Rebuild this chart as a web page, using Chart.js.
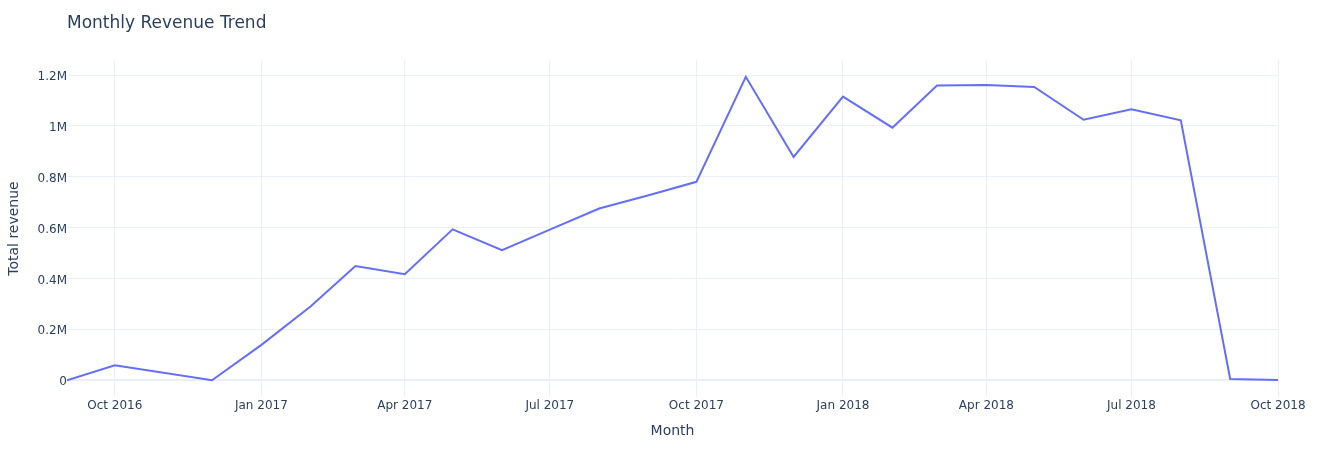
<!DOCTYPE html>
<html>
<head>
<meta charset="utf-8">
<script src="https://cdn.jsdelivr.net/npm/chart.js@4/dist/chart.umd.min.js"></script>
<style>
  html, body { margin: 0; padding: 0; background: #fff; }
  #wrap { width: 1318px; height: 450px; }
</style>
</head>
<body>
<div id="wrap"><canvas id="revenueChart" width="1318" height="450"></canvas></div>
<script>
// monthly revenue (Nov 2016 has no row, so the line jumps Oct -> Dec)
const months = [
  '2016-09', '2016-10', '2016-12',
  '2017-01', '2017-02', '2017-03', '2017-04', '2017-05', '2017-06',
  '2017-07', '2017-08', '2017-09', '2017-10', '2017-11', '2017-12',
  '2018-01', '2018-02', '2018-03', '2018-04', '2018-05', '2018-06',
  '2018-07', '2018-08', '2018-09', '2018-10'
];
const revenue = [
  0, 59000, 20,
  139000, 291000, 449000, 417000, 593000, 511000,
  592000, 675000, 727000, 780000, 1193000, 878000,
  1115000, 993000, 1159000, 1161000, 1153000, 1024000,
  1065000, 1022000, 5000, 600
];
const xTickMonths = ['2016-10', '2017-01', '2017-04', '2017-07', '2017-10', '2018-01', '2018-04', '2018-07', '2018-10'];
const yTickValues = [0, 200000, 400000, 600000, 800000, 1000000, 1200000];

const monthNames = ['Jan','Feb','Mar','Apr','May','Jun','Jul','Aug','Sep','Oct','Nov','Dec'];
const toDay = m => { const [y, mo] = m.split('-').map(Number); return Date.UTC(y, mo - 1, 1) / 86400000; };
const fromDay = d => { const dt = new Date(d * 86400000); return monthNames[dt.getUTCMonth()] + ' ' + dt.getUTCFullYear(); };

const fontFamily = "'DejaVu Sans', Verdana, sans-serif";
const textColor = '#2a3f5f';
const gridColor = '#ebf0f8';

const titlePlugin = {
  id: 'plotTitle',
  afterDraw(chart) {
    const c = chart.ctx;
    c.save();
    c.font = '17px ' + fontFamily;
    c.fillStyle = textColor;
    c.textBaseline = 'middle';
    c.fillText('Monthly Revenue Trend', chart.chartArea.left, 24);
    c.restore();
  }
};

const ctx = document.getElementById('revenueChart').getContext('2d');
new Chart(ctx, {
  type: 'line',
  data: {
    datasets: [{
      label: 'Total revenue',
      data: months.map((m, i) => ({ x: toDay(m), y: revenue[i] })),
      borderColor: '#636efa',
      backgroundColor: '#636efa',
      borderWidth: 2,
      pointRadius: 0,
      tension: 0,
      fill: false
    }]
  },
  options: {
    responsive: false,
    animation: false,
    layout: { padding: { top: 60, right: 40, bottom: 0, left: 0 } },
    plugins: {
      legend: { display: false },
      tooltip: { enabled: false }
    },
    scales: {
      x: {
        type: 'linear',
        min: toDay(months[0]),
        max: toDay(months[months.length - 1]),
        afterBuildTicks: s => { s.ticks = xTickMonths.map(m => ({ value: toDay(m) })); },
        afterFit: s => { s.height = 53; },
        ticks: {
          callback: v => fromDay(v),
          color: textColor,
          font: { family: fontFamily, size: 12 },
          padding: 2,
          maxRotation: 0,
          autoSkip: false
        },
        grid: { color: gridColor, lineWidth: 1, drawTicks: false },
        border: { display: false },
        title: {
          display: true,
          text: 'Month',
          color: textColor,
          font: { family: fontFamily, size: 14 },
          padding: { top: 0, bottom: 10 }
        }
      },
      y: {
        min: -66000,
        max: 1259000,
        afterBuildTicks: s => { s.ticks = yTickValues.map(v => ({ value: v })); },
        afterFit: s => { s.width = 67; },
        ticks: {
          callback: v => v === 0 ? '0' : parseFloat((v / 1e6).toFixed(1)) + 'M',
          color: textColor,
          font: { family: fontFamily, size: 12 },
          padding: 0,
          labelOffset: 2
        },
        grid: {
          color: gridColor,
          lineWidth: c => (c.tick && c.tick.value === 0) ? 2 : 1,
          drawTicks: false
        },
        border: { display: false },
        title: {
          display: true,
          text: 'Total revenue',
          color: textColor,
          font: { family: fontFamily, size: 14 },
          padding: { top: 6, bottom: 0 }
        }
      }
    }
  },
  plugins: [titlePlugin]
});
</script>
</body>
</html>
